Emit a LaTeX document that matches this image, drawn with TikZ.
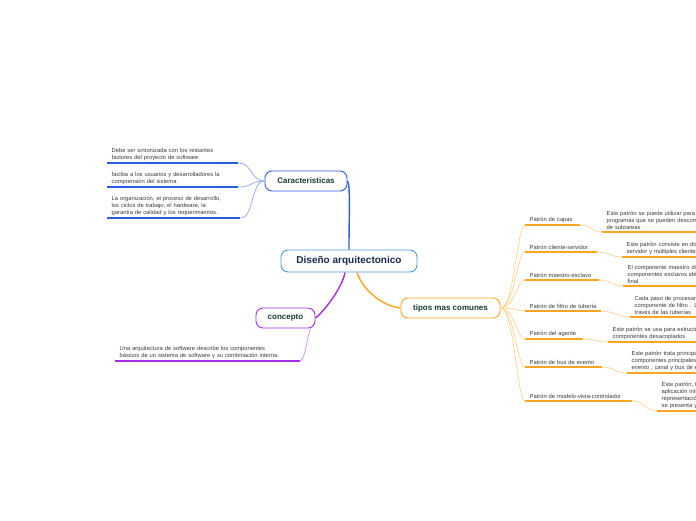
\documentclass[tikz,border=0pt]{standalone}
\usepackage{fontspec}
\setmainfont{Liberation Sans}
\usetikzlibrary{positioning}
\definecolor{centralblue}{HTML}{4A9BDB}
\definecolor{centraltext}{HTML}{1B2A4A}
\definecolor{topictext}{HTML}{173E2E}
\definecolor{leaftext}{HTML}{3A3A3A}
\definecolor{mapblue}{HTML}{2B5CE6}
\definecolor{bluelight}{HTML}{8FA8F2}
\definecolor{mappurple}{HTML}{A22EEB}
\definecolor{purplelight}{HTML}{CD8DF5}
\definecolor{maporange}{HTML}{FFA51F}
\definecolor{orangelight}{HTML}{FFD390}
\begin{document}
\begin{tikzpicture}[x=1pt, y=-1pt,
  topic/.style={draw, rounded corners=7pt, fill=white, line width=0.9pt,
    text=topictext, font=\bfseries\fontsize{8}{9}\selectfont,
    minimum height=20pt, inner sep=0pt},
  leaf/.style={anchor=south west, align=left, inner xsep=4.5pt, inner ysep=2pt,
    text=leaftext, font=\fontsize{5.8}{6.9}\selectfont},
  uline/.style={line width=1.6pt},
  branch/.style={line width=1.4pt},
  twig/.style={line width=0.7pt}
]
\useasboundingbox (0,0) rectangle (696,520);
\clip (0,0) rectangle (696,520);

% topics
\node[topic, draw=centralblue, text=centraltext, font=\bfseries\fontsize{10}{12}\selectfont,
  minimum width=136pt, minimum height=22pt] (center) at (349,261) {Diseño arquitectonico};
\node[topic, draw=mapblue, minimum width=82pt] (carac) at (306,181) {Caracteristicas};
\node[topic, draw=mappurple, minimum width=59pt] (concepto) at (285.5,318) {concepto};
\node[topic, draw=maporange, minimum width=99pt] (tipos) at (450.5,308) {tipos mas comunes};

% caracteristicas
\node[leaf, text width=122pt] (c1) at (107,163) {Debe ser sintonizada con los restantes\\factores del proyecto de software};
\node[leaf, text width=122pt] (c2) at (107,187) {facilita a los usuarios y desarrolladores la\\comprensión del sistema};
\node[leaf, text width=124pt] (c3) at (107,218) {La organización, el proceso de desarrollo,\\los ciclos de trabajo, el hardware, la\\garantía de calidad y los requerimientos.};

% concepto
\node[leaf, text width=176pt] (k1) at (115,361) {Una arquitectura de software describe los componentes\\básicos de un sistema de software y su combinación  interna.};

% patrones
\node[leaf, text width=46pt] (p1) at (525,225) {Patrón de capas};
\node[leaf, text width=63pt] (p2) at (525,252) {Patrón cliente-servidor};
\node[leaf, text width=65pt] (p3) at (525,280) {Patrón maestro-esclavo};
\node[leaf, text width=67pt] (p4) at (525,311) {Patrón de filtro de tubería};
\node[leaf, text width=49pt] (p5) at (525,339) {Patrón del agente};
\node[leaf, text width=68pt] (p6) at (525,367) {Patrón de bus de evento};
\node[leaf, text width=98pt] (p7) at (525,401) {Patrón de modelo-vista-controlador};

\node[leaf, text width=300pt] (d1) at (602,232) {Este patrón se puede utilizar para estructurar\\programas que se pueden descomponer en grupos\\de subtareas};
\node[leaf, text width=300pt] (d2) at (622,257) {Este patrón consiste en dos partes; un\\servidor y múltiples clientes.};
\node[leaf, text width=300pt] (d3) at (623,286) {El componente maestro distribuye el trabajo entre\\componentes esclavos idénticos y calcula el resultado\\final};
\node[leaf, text width=300pt] (d4) at (630,317) {Cada paso de procesamiento está encerrado dentro de un\\componente de filtro . Los datos que se van a procesar se pasan a\\través de las tuberías};
\node[leaf, text width=300pt] (d5) at (608,342) {Este patrón se usa para estructurar sistemas distribuidos con\\componentes desacoplados};
\node[leaf, text width=300pt] (d6) at (627,373) {Este patrón trata principalmente con eventos y tiene 4\\componentes principales; fuente de\\evento , canal y bus de eventos};
\node[leaf, text width=300pt] (d7) at (657,411) {Este patrón, también conocido como patrón MVC, divide una\\aplicación interactiva en 3 partes, para separar la\\representación interna de la información de la forma\\se presenta y acepta del usuario};

% main branches
\draw[branch, mapblue] (carac.east) .. controls +(3,3) and +(0,-35) .. (center.north);
\draw[branch, mappurple] ([xshift=-4pt]center.south) .. controls +(-3,16) and +(8,-6) .. (concepto.east);
\draw[branch, maporange] ([xshift=8pt]center.south) .. controls +(6,18) and +(-18,-2) .. (tipos.west);

% twigs
\foreach \leafname in {c1,c2,c3}
  \draw[twig, bluelight] (carac.west) .. controls +(-14,0) and +(14,0) .. (\leafname.south east);
\draw[twig, purplelight] ([xshift=-5pt]concepto.south east) .. controls +(-4,12) and +(5,-3) .. (k1.south east);
\foreach \p in {p1,p2,p3,p4,p5,p6,p7}
  \draw[twig, orangelight] (tipos.east) .. controls +(14,0) and +(-8,0) .. (\p.south west);
\foreach \p/\d in {p1/d1,p2/d2,p3/d3,p4/d4,p5/d5,p6/d6,p7/d7}
  \draw[twig, orangelight] (\p.south east) .. controls +(12,0) and +(-12,0) .. (\d.south west);

% underlines
\foreach \n in {c1,c2,c3}
  \draw[uline, mapblue] (\n.south west) -- (\n.south east);
\draw[uline, mappurple] (k1.south west) -- (k1.south east);
\foreach \n in {p1,p2,p3,p4,p5,p6,p7,d1,d2,d3,d4,d5,d6,d7}
  \draw[uline, maporange] (\n.south west) -- (\n.south east);
\end{tikzpicture}
\end{document}
